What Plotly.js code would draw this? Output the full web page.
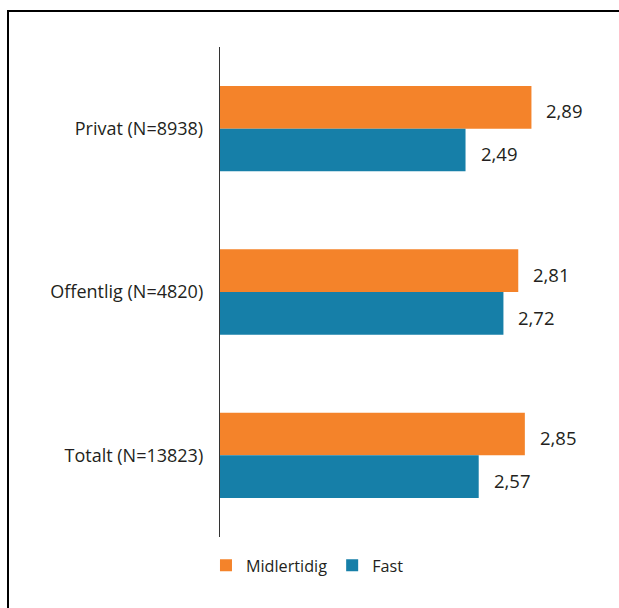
<!DOCTYPE html>
<html>
<head>
<meta charset="utf-8">
<script src="https://cdn.plot.ly/plotly-3.0.1.min.js"></script>
<style>
html,body{margin:0;padding:0;background:#fff;}
#frame{position:absolute;left:7px;top:10px;width:700px;height:700px;border:2px solid #000;box-sizing:border-box;pointer-events:none;}
#chart{position:absolute;left:0;top:0;width:619px;height:608px;}
</style>
</head>
<body>
<div id="chart"></div>
<div id="frame"></div>
<script>
const categories = ["Privat (N=8938)", "Offentlig (N=4820)", "Totalt (N=13823)"];
const midlertidig = [2.89, 2.81, 2.85];
const fast = [2.49, 2.72, 2.57];
const seriesNames = ["Midlertidig", "Fast"];
const colors = ["#f4832a", "#167fa8"];

const fmt = v => v.toFixed(2).replace('.', ',');
const fontFam = "'Open Sans', 'Noto Sans', sans-serif";

const traces = [
  {type:'bar', orientation:'h', name:seriesNames[0], y:categories, x:midlertidig, base:0, marker:{color:colors[0]}, hoverinfo:'skip'},
  {type:'bar', orientation:'h', name:seriesNames[1], y:categories, x:fast, base:0, marker:{color:colors[1]}, hoverinfo:'skip'}
];

const annotations = [];
categories.forEach((c,i)=>{
  annotations.push({x:midlertidig[i], y:c, xref:'x', yref:'y', text:fmt(midlertidig[i]), showarrow:false, xanchor:'left', xshift:13, yshift:18, font:{size:18.5, color:'#231f20', family:fontFam}});
  annotations.push({x:fast[i], y:c, xref:'x', yref:'y', text:fmt(fast[i]), showarrow:false, xanchor:'left', xshift:13, yshift:-25, font:{size:18.5, color:'#231f20', family:fontFam}});
});

const layout = {
  width:619, height:608,
  margin:{l:220, r:20, t:47, b:71, pad:0},
  paper_bgcolor:'#fff', plot_bgcolor:'#fff',
  barmode:'group', bargap:0.478, bargroupgap:0,
  separators:', ',
  font:{family:fontFam, size:15, color:'#231f20'},
  xaxis:{range:[1,3.3], showgrid:false, zeroline:false, showline:false, showticklabels:false, ticks:''},
  yaxis:{type:'category', autorange:'reversed', showgrid:false, zeroline:false, showline:true, linecolor:'#333', linewidth:1.2,
         ticks:'outside', ticklen:12, tickcolor:'rgba(0,0,0,0)', tickfont:{size:18, family:fontFam, color:'#231f20'}},
  showlegend:true,
  legend:{orientation:'h', x:-0.037, xanchor:'left', y:-0.023, yanchor:'top', font:{size:16.2, family:fontFam, color:'#231f20'}, itemclick:false},
  annotations:annotations
};

Plotly.newPlot('chart', traces, layout, {displayModeBar:false, staticPlot:true});
</script>
</body>
</html>
